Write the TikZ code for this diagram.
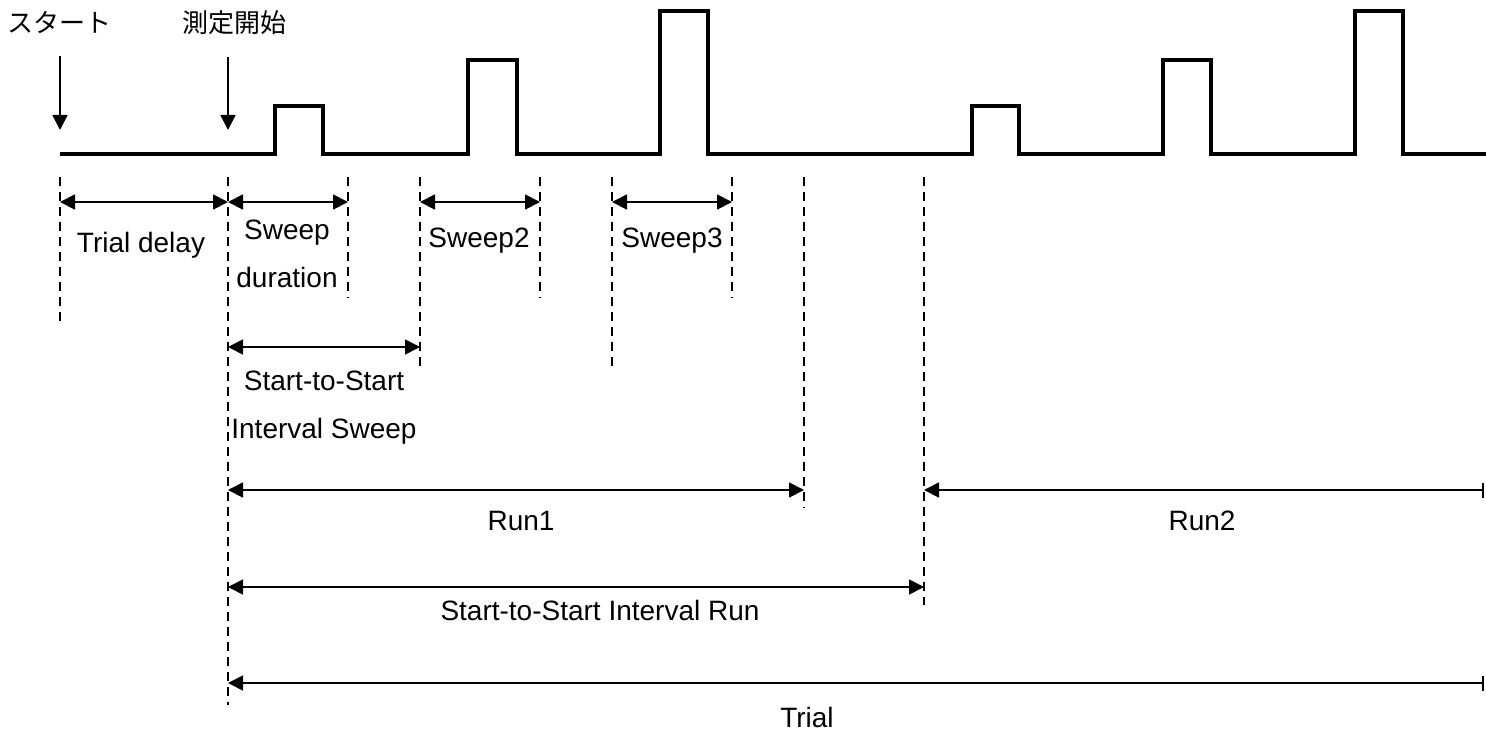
\documentclass[tikz,border=0pt]{standalone}
\usepackage{fontspec}
\setmainfont{Liberation Sans}
\newfontfamily\jpfont{Noto Sans CJK JP}
\usetikzlibrary{arrows.meta}

\begin{document}
\begin{tikzpicture}[x=1pt, y=-1pt,
    signal/.style={line width=3.2pt},
    guide/.style={line width=1.8pt, dash pattern=on 9pt off 6pt},
    span/.style={line width=1.8pt, {Triangle[length=15pt,width=15pt]}-{Triangle[length=15pt,width=15pt]}},
    openspan/.style={line width=1.8pt, {Triangle[length=15pt,width=15pt]}-{Bar[width=15pt]}},
    marker/.style={line width=1.8pt, -{Triangle[length=15pt,width=15pt]}, shorten <=22pt},
    lbl/.style={font=\fontsize{28}{48}\selectfont, inner sep=0pt, anchor=base, align=center},
    jlbl/.style={font=\jpfont\fontsize{26}{30}\selectfont, inner sep=0pt, anchor=base}]
    \useasboundingbox (0,0) rectangle (1486,733);

    % signal
    \draw[signal] (60,154) -- (275,154) -- (275,106) -- (323,106) -- (323,154)
        -- (468,154) -- (468,60) -- (517,60) -- (517,154)
        -- (660,154) -- (660,11) -- (708,11) -- (708,154)
        -- (972,154) -- (972,106) -- (1019,106) -- (1019,154)
        -- (1163,154) -- (1163,60) -- (1211,60) -- (1211,154)
        -- (1355,154) -- (1355,11) -- (1403,11) -- (1403,154) -- (1486,154);

    % markers
    \node[jlbl] (start) at (59,33) {スタート};
    \node[jlbl] (meas) at (234,33) {測定開始};
    \coordinate (startTip) at (60,130);
    \coordinate (measTip) at (228,130);
    \draw[marker] (start.south -| startTip) -- (startTip);
    \draw[marker] (meas.south -| measTip) -- (measTip);

    % guides
    \foreach \gname/\gx/\gb in {tS/60/325, tM/228/705, sw1e/348/298, sw2s/420/367,
        sw2e/540/298, sw3s/612/370, sw3e/732/298, run1e/804/508, run2s/924/605} {
        \coordinate (\gname) at (\gx,0);
        \draw[guide] (\gx,177) -- (\gx,\gb);
    }
    \coordinate (endR) at (1484,0);
    \coordinate (row1) at (0,202);
    \coordinate (rowSS) at (0,347);
    \coordinate (rowRun) at (0,490);
    \coordinate (rowSSR) at (0,587);
    \coordinate (rowTrial) at (0,683);

    % spans
    \draw[span] (tS |- row1) -- (tM |- row1);
    \draw[span] (tM |- row1) -- (sw1e |- row1);
    \draw[span] (sw2s |- row1) -- (sw2e |- row1);
    \draw[span] (sw3s |- row1) -- (sw3e |- row1);
    \draw[span] (tM |- rowSS) -- (sw2s |- rowSS);
    \draw[span] (tM |- rowRun) -- (run1e |- rowRun);
    \draw[openspan] (run2s |- rowRun) -- (endR |- rowRun);
    \draw[span] (tM |- rowSSR) -- (run2s |- rowSSR);
    \draw[openspan] (tM |- rowTrial) -- (endR |- rowTrial);

    % labels
    \node[lbl] (delay) at (141,252) {Trial delay};
    \node[lbl] (sweep1) at (287,287) {Sweep\\duration};
    \node[lbl] (sweep2) at (479,247) {Sweep2};
    \node[lbl] (sweep3) at (672,247) {Sweep3};
    \node[lbl] (ssSweep) at (324,438) {Start-to-Start\\Interval Sweep};
    \node[lbl] (run1) at (521,530) {Run1};
    \node[lbl] (run2) at (1202,530) {Run2};
    \node[lbl] (ssRun) at (600,620) {Start-to-Start Interval Run};
    \node[lbl] (trial) at (807,727) {Trial};
\end{tikzpicture}
\end{document}
